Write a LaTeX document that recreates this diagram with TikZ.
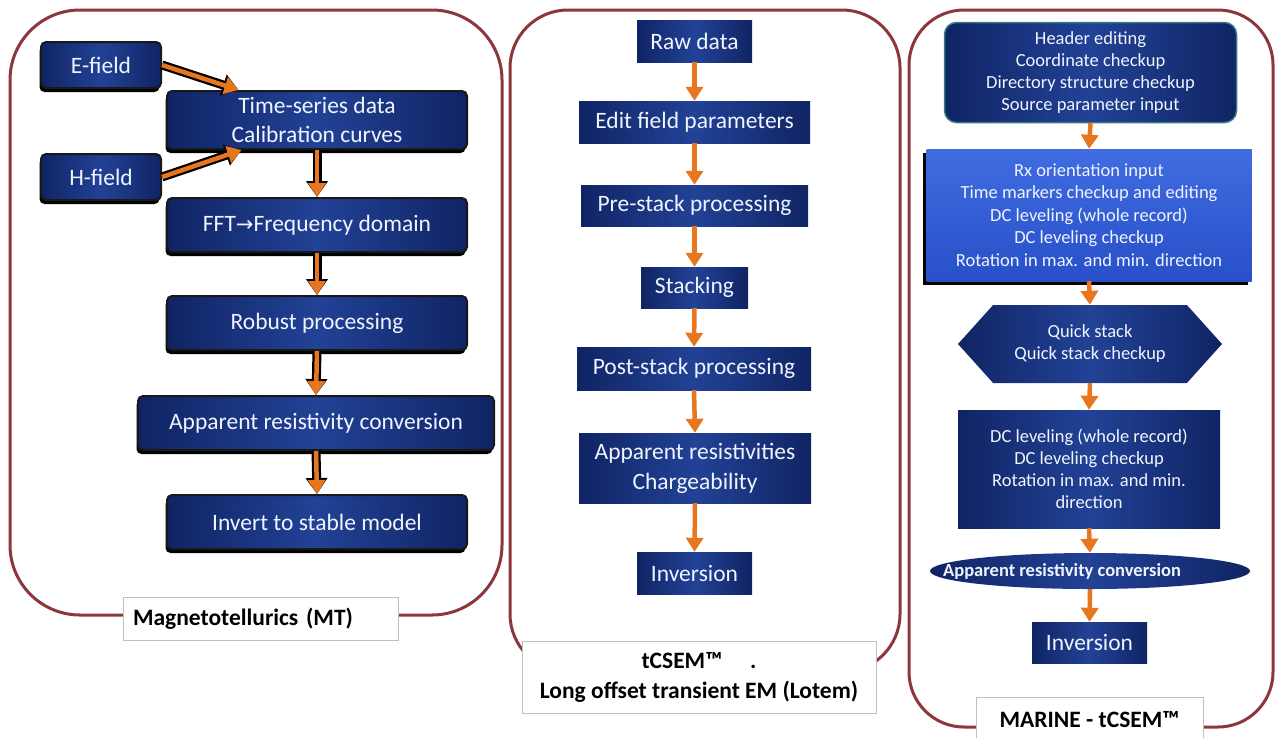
\documentclass[tikz,border=0pt]{standalone}
\usepackage{fontspec}
\setmainfont{Carlito}
\newfontfamily\arrowfont{DejaVu Sans}
\usetikzlibrary{arrows.meta,shapes.geometric,shapes.symbols,shadows,calc}
\definecolor{navy}{RGB}{28,56,138}
\definecolor{navyD}{RGB}{16,36,100}
\definecolor{navyL}{RGB}{34,66,150}
\definecolor{rxtop}{RGB}{64,108,225}
\definecolor{rxbot}{RGB}{40,80,200}
\definecolor{panelred}{RGB}{140,55,60}
\definecolor{arroworange}{RGB}{232,118,30}
\definecolor{tealedge}{RGB}{55,120,130}
\definecolor{boxtext}{RGB}{240,244,255}
\tikzset{
  panel/.style={draw=panelred, line width=3pt, rounded corners=#1},
  mtbox/.style={rectangle, rounded corners=5pt, left color=navyD, right color=navyD, middle color=navyL,
    draw=black!90, line width=2pt, text=boxtext, font=\fontsize{23.5}{29}\selectfont, inner sep=0pt, align=center,
    drop shadow={shadow xshift=-1.5pt, shadow yshift=-4pt, opacity=1, fill=black}},
  box2/.style={rectangle, left color=navyD, right color=navyD, middle color=navyL,
    text=boxtext, font=\fontsize{23.5}{30}\selectfont, inner sep=0pt, align=center},
  box3/.style={rectangle, left color=navyD, right color=navyD, middle color=navyL,
    text=boxtext, font=\fontsize{18.5}{22}\selectfont, inner sep=0pt, align=center},
  flowarrow/.style={draw=arroworange, line width=4.5pt, -{Triangle[width=17pt,length=14pt]}},
  mtshadow/.style={draw=black, line width=9pt, -{Triangle[width=21pt,length=16pt]}},
  lbl/.style={rectangle, fill=white, draw=black!25, line width=0.8pt, text=black, inner sep=0pt,
    font=\bfseries\fontsize{23.5}{30}\selectfont, align=center}
}
\begin{document}
\begin{tikzpicture}[x=1pt,y=-1pt]
\useasboundingbox (0,0) rectangle (1276,737);
% panels
\draw[panel=70pt] (10,10) rectangle (502,615);
\draw[panel=58pt] (510,10) rectangle (900,672);
\draw[panel=55pt] (909,10) rectangle (1273,727);

% ---------- Panel 1: MT ----------
\node[mtbox, minimum width=120pt, minimum height=46pt] (efield) at (101,65) {E-field};
\node[mtbox, minimum width=300pt, minimum height=58pt] (ts) at (317,120) {Time-series data\\Calibration curves};
\node[mtbox, minimum width=120pt, minimum height=46pt] (hfield) at (101,177) {H-field};
\node[mtbox, minimum width=300pt, minimum height=54pt] (fft) at (317,225) {FFT{\arrowfont\fontsize{21}{21}\selectfont →}Frequency domain};
\node[mtbox, minimum width=300pt, minimum height=54pt] (robust) at (317,323) {Robust processing};
\node[mtbox, minimum width=356pt, minimum height=54pt] (appres) at (316,423) {Apparent resistivity conversion};
\node[mtbox, minimum width=300pt, minimum height=54pt] (invert) at (317,522) {Invert to stable model};

\coordinate (tsin1) at ($(ts.north west)!0.24!(ts.north east)$);
\coordinate (tsin2) at ($(ts.south west)!0.25!(ts.south east)$);
\foreach \a/\b in {efield.east/tsin1, hfield.east/tsin2, ts.south/fft.north, fft.south/robust.north, robust.south/appres.north, appres.south/invert.north}{
  \draw[mtshadow] (\a) -- (\b);
  \draw[flowarrow] (\a) -- (\b);
}
\node[lbl, minimum width=275pt, minimum height=43pt, text width=255pt, align=left] (lmt) at (260.5,618.5) {Magnetotellurics (MT)};

% ---------- Panel 2: tCSEM / Lotem ----------
\node[box2, minimum width=115pt, minimum height=42pt] (raw) at (694.5,41) {Raw data};
\node[box2, minimum width=231pt, minimum height=42pt] (edit) at (694.5,122) {Edit field parameters};
\node[box2, minimum width=227pt, minimum height=41pt] (pre) at (694.5,205.5) {Pre-stack processing};
\node[box2, minimum width=107pt, minimum height=41pt] (stk) at (694.5,287.5) {Stacking};
\node[box2, minimum width=234pt, minimum height=43pt] (post) at (694,368.5) {Post-stack processing};
\node[box2, minimum width=232pt, minimum height=70pt] (appr) at (695,468) {Apparent resistivities\\Chargeability};
\node[box2, minimum width=115pt, minimum height=42pt] (inv2) at (694.5,573) {Inversion};
\foreach \a/\b in {raw/edit, edit/pre, pre/stk, stk/post, post/appr, appr/inv2}{
  \draw[flowarrow] (\a.south) -- (\b.north);
}
\node[lbl, minimum width=354pt, minimum height=72pt] (ltc) at (699,677) {tCSEM™\hspace{28pt}.\\Long offset transient EM (Lotem)};

% ---------- Panel 3: Marine tCSEM ----------
\node[box3, rounded corners=12pt, draw=tealedge, line width=1.5pt, minimum width=292pt, minimum height=100pt] (hdr) at (1090.5,72.5)
  {Header editing\\Coordinate checkup\\Directory structure checkup\\Source parameter input};
\node[rectangle, top color=rxtop, bottom color=rxbot, text=boxtext, font=\fontsize{18.5}{22.5}\selectfont, align=center, inner sep=0pt,
  minimum width=325pt, minimum height=132pt, drop shadow={shadow xshift=-4pt, shadow yshift=-4pt, opacity=1, fill=black}] (rx) at (1089,215)
  {Rx orientation input\\Time markers checkup and editing\\DC leveling (whole record)\\DC leveling checkup\\Rotation in max. and min. direction};
\node[box3, signal, signal to=east and west, signal pointer angle=96, minimum width=264pt, minimum height=78pt] (quick) at (1090,344)
  {Quick stack\\Quick stack checkup};
\node[box3, minimum width=262pt, minimum height=118pt] (dc) at (1089,469)
  {DC leveling (whole record)\\DC leveling checkup\\Rotation in max. and min.\\direction};
\node[box3, ellipse, minimum width=320pt, minimum height=36pt, font=\bfseries\fontsize{18.5}{20}\selectfont] (ell) at (1090,571)
  {\makebox[0pt]{\hspace{-56pt}Apparent resistivity conversion}};
\node[box2, minimum width=115pt, minimum height=41pt] (inv3) at (1089.5,642.5) {Inversion};
\foreach \a/\b in {hdr/rx, rx/quick, quick/dc, dc/ell, ell/inv3}{
  \draw[flowarrow] (\a.south) -- (\b.north);
}
\node[lbl, minimum width=227pt, minimum height=46pt] (lmar) at (1089.5,720) {MARINE - tCSEM™};
\end{tikzpicture}
\end{document}
